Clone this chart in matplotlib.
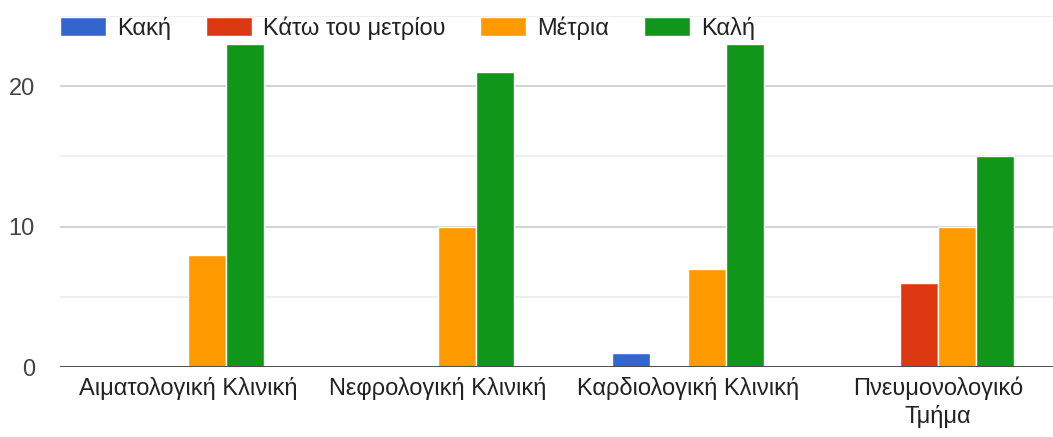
import matplotlib
matplotlib.use("Agg")
import matplotlib.pyplot as plt
import numpy as np

categories = ["Αιματολογική Κλινική", "Νεφρολογική Κλινική", "Καρδιολογική Κλινική", "Πνευμονολογικό\nΤμήμα"]
series_names = ["Κακή", "Κάτω του μετρίου", "Μέτρια", "Καλή"]
kaki = [0, 0, 1, 0]
kato = [0, 0, 0, 6]
metria = [8, 10, 7, 10]
kali = [23, 21, 23, 15]
colors = ["#3366cc", "#dc3912", "#ff9900", "#109618"]
y_ticks = [0, 10, 20]

plt.rcParams['font.family'] = ['Liberation Sans', 'DejaVu Sans']
FS = 17

fig = plt.figure(figsize=(10.53, 4.37), dpi=100)
ax = fig.add_axes([60/1053, 70/437, 993/1053, 351/437])

x = np.arange(len(categories))
w = 0.152
data = [kaki, kato, metria, kali]
for i, (vals, name, c) in enumerate(zip(data, series_names, colors)):
    ax.bar(x + (i - 1.5) * w, vals, width=w, color=c, label=name,
           edgecolor="white", linewidth=1.0, zorder=3)

ax.set_xlim(-0.512, 3.46)
ax.set_ylim(0, 25)
ax.set_yticks(y_ticks)
ax.set_yticks([5, 15, 25], minor=True)
ax.grid(axis='y', which='major', color='#cccccc', linewidth=1.2, zorder=0)
ax.grid(axis='y', which='minor', color='#ebebeb', linewidth=1.2, zorder=0)
ax.axhline(0, color='#444444', linewidth=1.3, zorder=4)
for s in ax.spines.values():
    s.set_visible(False)
ax.set_xticks(x)
ax.set_xticklabels(categories, fontsize=FS, color='#222222', linespacing=1.25)
ax.tick_params(axis='x', length=0, pad=7)
ax.tick_params(axis='y', which='both', length=0, pad=18, labelsize=FS, labelcolor='#444444')

leg = ax.legend(loc='upper left', bbox_to_anchor=(0.0, 1.0), ncol=4, frameon=False,
                fontsize=FS, handlelength=1.95, handleheight=0.9, handletextpad=0.47,
                columnspacing=1.47, borderaxespad=0.0, borderpad=0.0)
for t in leg.get_texts():
    t.set_color('#222222')

fig.savefig("out.png", dpi=100)
